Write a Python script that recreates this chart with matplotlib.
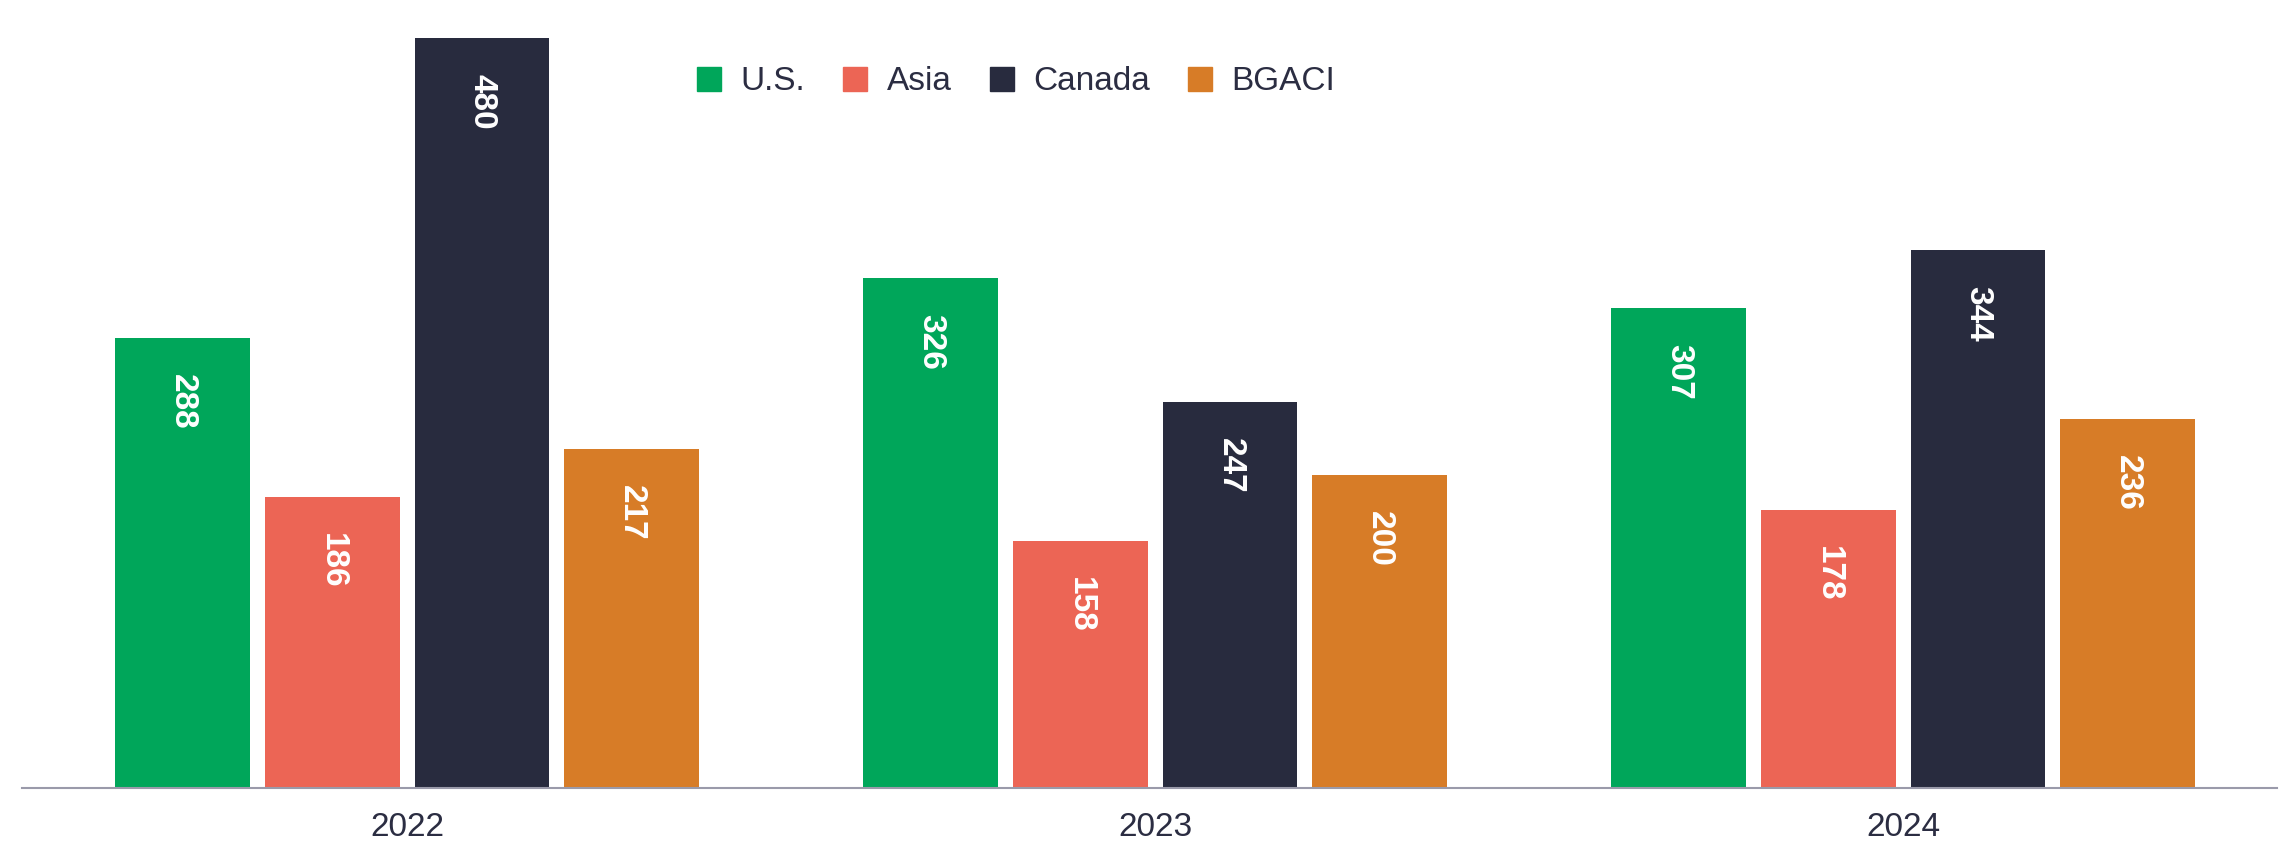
import matplotlib
matplotlib.use("Agg")
import matplotlib.pyplot as plt
from matplotlib.lines import Line2D
import numpy as np

plt.rcParams['font.family'] = ['Liberation Sans Narrow', 'Liberation Sans', 'DejaVu Sans']

# yearly values per region
years = ['2022', '2023', '2024']
regions = ['U.S.', 'Asia', 'Canada', 'BGACI']
us = [288, 326, 307]
asia = [186, 158, 178]
canada = [480, 247, 344]
bgaci = [217, 200, 236]
colors = ['#00A65A', '#EC6555', '#282B3E', '#D77C27']

series = [us, asia, canada, bgaci]
text_col = '#2B2D42'

fig = plt.figure(figsize=(22.89, 8.44), dpi=100)
ax = fig.add_axes([0.0096, 0.0664, 0.9852, 0.9336])

x = np.arange(len(years))
step = 0.2
width = 0.18
for i, (vals, c) in enumerate(zip(series, colors)):
    pos = x + (i - 1.5) * step
    bars = ax.bar(pos, vals, width=width, color=c, zorder=2)
    for b, v in zip(bars, vals):
        ax.annotate(str(v), (b.get_x() + b.get_width() / 2, v),
                    xytext=(0, -26), textcoords='offset points',
                    ha='center', va='top', rotation=270,
                    color='white', fontsize=24, fontweight='bold',
                    family=['Liberation Sans', 'DejaVu Sans'])

ax.set_xlim(-0.515, 2.5)
ax.set_ylim(0, 504)
ax.set_yticks([])
ax.set_xticks(x)
ax.set_xticklabels(years, fontsize=24, color=text_col)
ax.tick_params(axis='x', length=0, pad=17)
for s in ['top', 'right', 'left']:
    ax.spines[s].set_visible(False)
ax.spines['bottom'].set_color('#9A9AAA')
ax.spines['bottom'].set_linewidth(1.5)

handles = [Line2D([], [], marker='s', linestyle='none', markersize=17,
                  markerfacecolor=c, markeredgecolor=c) for c in colors]
fig.legend(handles, regions, loc='center', bbox_to_anchor=(0.444, 0.903),
           ncol=4, frameon=False, fontsize=24, handlelength=0.7,
           handletextpad=0.6, columnspacing=1.15, labelcolor=text_col)

fig.savefig('out.png', dpi=100)
